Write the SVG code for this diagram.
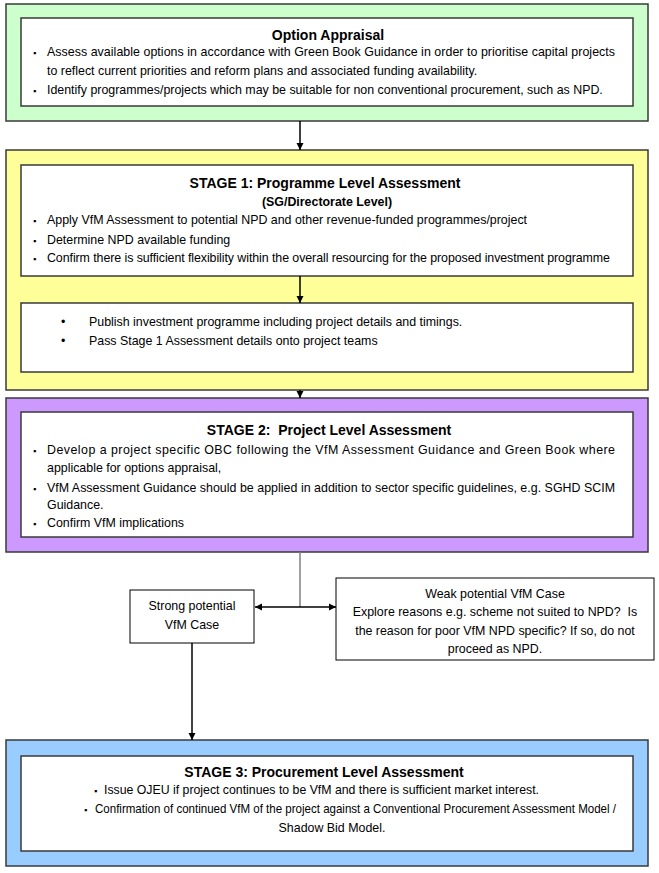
<svg xmlns="http://www.w3.org/2000/svg" width="659" height="873" viewBox="0 0 659 873">
<defs>
<marker id="ah" viewBox="0 0 10 10" refX="10" refY="5" markerWidth="7" markerHeight="8" orient="auto-start-reverse" markerUnits="userSpaceOnUse">
<path d="M0,0 L10,5 L0,10 z" fill="#000"/>
</marker>
<style>
.outer{stroke:#3a3a3a;stroke-width:1.5}
.inner{fill:#fff;stroke:#3a3a3a;stroke-width:1.5}
.box{fill:#fff;stroke:#000;stroke-width:1}
.t{font-family:"Liberation Sans",Arial,sans-serif;font-size:12.4px;fill:#000}
.h{font-family:"Liberation Sans",Arial,sans-serif;font-size:14px;font-weight:bold;fill:#000}
.hs{font-family:"Liberation Sans",Arial,sans-serif;font-size:12.4px;font-weight:bold;fill:#000}
.b{font-family:"Liberation Sans",Arial,sans-serif;font-size:9px;fill:#000}
.c{text-anchor:middle}
.conn{stroke:#000;stroke-width:1.5;fill:none}
</style>
</defs>

<g id="option-appraisal">
<rect class="outer" x="6" y="4" width="642" height="117" fill="#CCFFCC"/>
<rect class="inner" x="21" y="18" width="612" height="88"/>
<text class="h c" x="328" y="40">Option Appraisal</text>
<text class="b" x="33" y="56">▪</text>
<text class="t" x="47" y="56" textLength="568" lengthAdjust="spacing">Assess available options in accordance with Green Book Guidance in order to prioritise capital projects</text>
<text class="t" x="47" y="75">to reflect current priorities and reform plans and associated funding availability.</text>
<text class="b" x="33" y="94">▪</text>
<text class="t" x="47" y="94">Identify programmes/projects which may be suitable for non conventional procurement, such as NPD.</text>
</g>

<g id="stage1">
<rect class="outer" x="6" y="150" width="642" height="240" fill="#FFFF99"/>
<rect class="inner" x="21" y="165" width="612" height="111"/>
<text class="h c" x="325" y="188">STAGE 1: Programme Level Assessment</text>
<text class="hs c" x="327" y="206">(SG/Directorate Level)</text>
<text class="b" x="33" y="224">▪</text>
<text class="t" x="47" y="224">Apply VfM Assessment to potential NPD and other revenue-funded programmes/project</text>
<text class="b" x="33" y="244">▪</text>
<text class="t" x="47" y="244">Determine NPD available funding</text>
<text class="b" x="33" y="262">▪</text>
<text class="t" x="47" y="262" textLength="563" lengthAdjust="spacing">Confirm there is sufficient flexibility within the overall resourcing for the proposed investment programme</text>
</g>

<g id="stage1-publish">
<rect class="inner" x="21" y="303" width="612" height="69"/>
<text class="t" x="61" y="326">•</text>
<text class="t" x="89" y="326">Publish investment programme including project details and timings.</text>
<text class="t" x="61" y="345">•</text>
<text class="t" x="89" y="345">Pass Stage 1 Assessment details onto project teams</text>
</g>

<g id="stage2">
<rect class="outer" x="6" y="398" width="642" height="154" fill="#CC99FF"/>
<rect class="inner" x="21" y="412" width="612" height="125"/>
<text class="h c" x="329" y="435" xml:space="preserve">STAGE 2:  Project Level Assessment</text>
<text class="b" x="33" y="454">▪</text>
<text class="t" x="47" y="454" textLength="568" lengthAdjust="spacing">Develop a project specific OBC following the VfM Assessment Guidance and Green Book where</text>
<text class="t" x="47" y="472">applicable for options appraisal,</text>
<text class="b" x="33" y="492">▪</text>
<text class="t" x="47" y="492" textLength="568" lengthAdjust="spacing">VfM Assessment Guidance should be applied in addition to sector specific guidelines, e.g. SGHD SCIM</text>
<text class="t" x="47" y="509">Guidance.</text>
<text class="b" x="33" y="527">▪</text>
<text class="t" x="47" y="527">Confirm VfM implications</text>
</g>

<g id="strong-case">
<rect class="box" x="130" y="590" width="124" height="53"/>
<text class="t c" x="192" y="610">Strong potential</text>
<text class="t c" x="192" y="629">VfM Case</text>
</g>

<g id="weak-case">
<rect class="box" x="336" y="578" width="318" height="82"/>
<text class="t c" x="495" y="598">Weak potential VfM Case</text>
<text class="t c" x="495" y="616" xml:space="preserve">Explore reasons e.g. scheme not suited to NPD?  Is</text>
<text class="t c" x="495" y="635">the reason for poor VfM NPD specific? If so, do not</text>
<text class="t c" x="495" y="653">proceed as NPD.</text>
</g>

<g id="stage3">
<rect class="outer" x="6" y="740" width="642" height="126" fill="#99CCFF"/>
<rect class="inner" x="21" y="756" width="612" height="95"/>
<text class="h c" x="324" y="777">STAGE 3: Procurement Level Assessment</text>
<text class="b" x="94" y="794">▪</text>
<text class="t" x="104" y="794" textLength="435" lengthAdjust="spacingAndGlyphs">Issue OJEU if project continues to be VfM and there is sufficient market interest.</text>
<text class="b" x="84" y="813">▪</text>
<text class="t" x="95" y="813" textLength="521" lengthAdjust="spacingAndGlyphs">Confirmation of continued VfM of the project against a Conventional Procurement Assessment Model /</text>
<text class="t c" x="332" y="832">Shadow Bid Model.</text>
</g>

<g id="connectors">
<line class="conn" x1="300" y1="121" x2="300" y2="150" marker-end="url(#ah)"/>
<line class="conn" x1="300" y1="276" x2="300" y2="303" marker-end="url(#ah)"/>
<line class="conn" x1="300" y1="390" x2="300" y2="398" marker-end="url(#ah)"/>
<line x1="300" y1="552" x2="300" y2="607" stroke="#808080" stroke-width="1.5"/>
<line class="conn" x1="255" y1="607" x2="336" y2="607" marker-start="url(#ah)" marker-end="url(#ah)"/>
<line class="conn" x1="192" y1="643" x2="192" y2="740" marker-end="url(#ah)"/>
</g>
</svg>
